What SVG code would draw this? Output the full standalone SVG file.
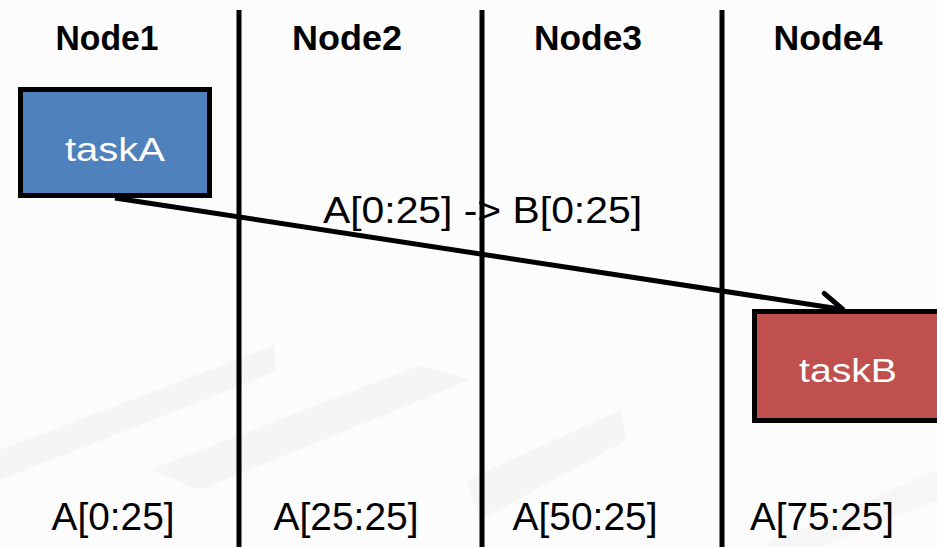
<svg xmlns="http://www.w3.org/2000/svg" width="937" height="547" viewBox="0 0 937 547">
  <style>
    .lane { stroke: #000; stroke-width: 5; }
    .head { font-family: "Liberation Sans", Arial, sans-serif; font-size: 35px; font-weight: bold; fill: #000; text-anchor: middle; }
    .part { font-family: "Liberation Sans", Arial, sans-serif; font-size: 38px; fill: #000; text-anchor: middle; }
    .task rect { stroke: #000; stroke-width: 5; }
    .task text { font-family: "Liberation Sans", Arial, sans-serif; font-size: 34px; fill: #fff; text-anchor: middle; }
    .edge { stroke: #000; stroke-width: 5; fill: none; }
    .edge-label { font-family: "Liberation Sans", Arial, sans-serif; font-size: 36px; fill: #000; }
    .bg { fill: #f3f3f3; }
  </style>
  <defs>
    <marker id="open-arrow" markerUnits="userSpaceOnUse" markerWidth="50" markerHeight="50" viewBox="-35 -25 50 50" refX="0" refY="0" orient="auto">
      <path d="M-21,-13 L0,0 L-21,13" fill="none" stroke="#000" stroke-width="5" stroke-linejoin="round" stroke-linecap="round"/>
    </marker>
  </defs>

  <!-- soft background blocks -->
  <rect width="937" height="547" fill="#fcfcfc"/>
  <g id="backdrop" opacity="0.7">
    <polygon class="bg" points="0,450 275,345 275,372 0,480"/>
    <polygon class="bg" points="150,470 420,365 470,380 200,490"/>
    <polygon class="bg" points="467,480 620,410 627,440 480,520"/>
    <polygon class="bg" points="760,547 937,470 937,500 820,547"/>
  </g>

  <!-- swim lanes -->
  <g id="lanes">
    <line class="lane" x1="239" y1="10" x2="239" y2="547"/>
    <line class="lane" x1="482" y1="10" x2="482" y2="547"/>
    <line class="lane" x1="722" y1="10" x2="722" y2="547"/>
  </g>

  <!-- lane headers -->
  <g id="headers">
    <text class="head" x="107" y="50" textLength="103" lengthAdjust="spacingAndGlyphs">Node1</text>
    <text class="head" x="347" y="50" textLength="110" lengthAdjust="spacingAndGlyphs">Node2</text>
    <text class="head" x="588" y="50" textLength="108" lengthAdjust="spacingAndGlyphs">Node3</text>
    <text class="head" x="828" y="50" textLength="109" lengthAdjust="spacingAndGlyphs">Node4</text>
  </g>

  <!-- data partitions -->
  <g id="partitions">
    <text class="part" x="113" y="530" textLength="123" lengthAdjust="spacingAndGlyphs">A[0:25]</text>
    <text class="part" x="346" y="530" textLength="145" lengthAdjust="spacingAndGlyphs">A[25:25]</text>
    <text class="part" x="585" y="530" textLength="145" lengthAdjust="spacingAndGlyphs">A[50:25]</text>
    <text class="part" x="822" y="530" textLength="144" lengthAdjust="spacingAndGlyphs">A[75:25]</text>
  </g>

  <!-- connectors -->
  <g id="connectors">
    <line class="edge" x1="115" y1="198" x2="843" y2="309.5" marker-end="url(#open-arrow)"/>
    <text class="edge-label" x="323" y="223" textLength="319" lengthAdjust="spacingAndGlyphs">A[0:25] -&gt; B[0:25]</text>
  </g>

  <!-- tasks -->
  <g id="taskA" class="task">
    <rect x="20.5" y="89.5" width="189" height="106" fill="#4f81bd"/>
    <text x="115" y="161" textLength="100" lengthAdjust="spacingAndGlyphs">taskA</text>
  </g>
  <g id="taskB" class="task">
    <rect x="754.5" y="311.5" width="190" height="109" fill="#c0504d"/>
    <text x="848" y="382" textLength="98" lengthAdjust="spacingAndGlyphs">taskB</text>
  </g>
</svg>
